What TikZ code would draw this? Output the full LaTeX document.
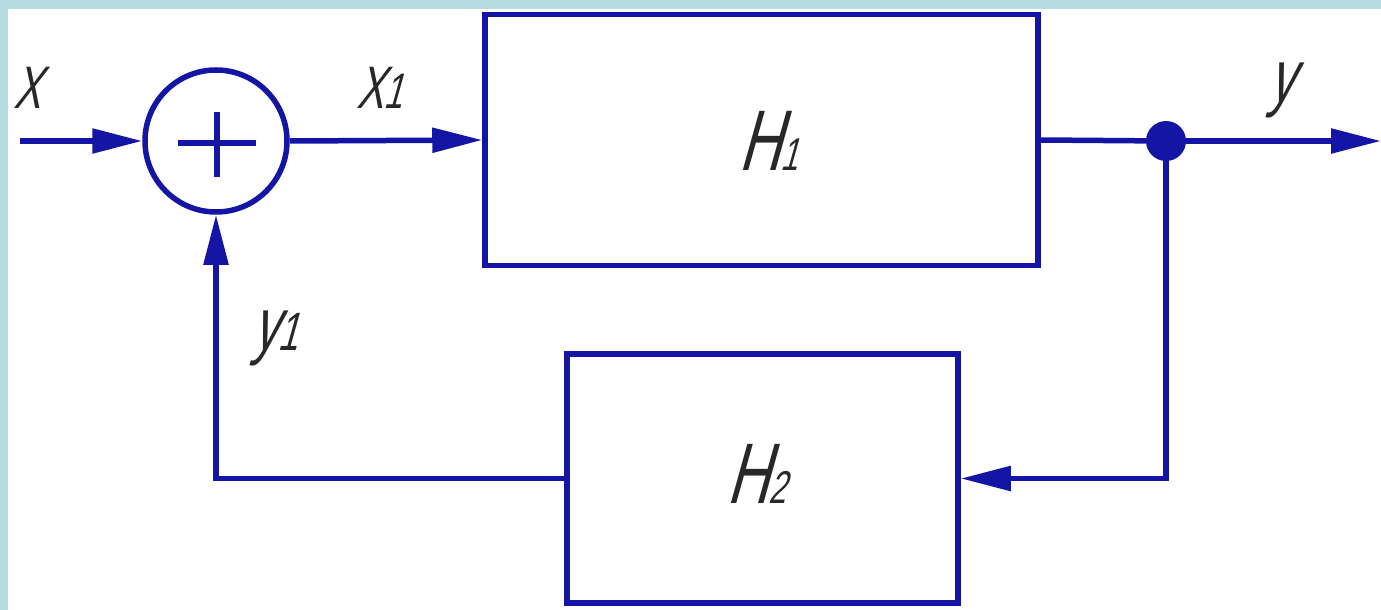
\documentclass[tikz,border=0pt]{standalone}
\usepackage{fontspec}
\usetikzlibrary{arrows.meta}
\newfontfamily\gost[FakeSlant=0.28,FakeStretch=0.68]{Liberation Sans}
\definecolor{lineblue}{RGB}{20,20,165}
\definecolor{bordercyan}{RGB}{182,222,226}
\definecolor{txt}{RGB}{40,40,40}
\tikzset{
  ln/.style={draw=lineblue, line width=5.5pt},
  arr/.style={-{Triangle[length=50pt,width=24pt]}},
  blk/.style={draw=lineblue, line width=5.5pt, fill=white, inner sep=0pt, rectangle},
  sumnode/.style={draw=lineblue, line width=5.5pt, circle, inner sep=0pt, minimum size=142pt},
  dotnode/.style={fill=lineblue, circle, inner sep=0pt, minimum size=40pt},
  lbl/.style={text=txt, inner sep=0pt, font=\gost},
}
\newcommand{\fs}[1]{\fontsize{#1}{#1}\selectfont}
\begin{document}
\begin{tikzpicture}[x=1pt,y=-1pt]
\useasboundingbox (0,0) rectangle (1381,610);
\fill[white] (0,0) rectangle (1381,610);
\fill[bordercyan] (0,0) rectangle (1381,9);
\fill[bordercyan] (0,0) rectangle (8,610);

\node[sumnode] (sum) at (216,141) {};
\draw[ln] (178,143) -- (256,143);
\draw[ln] (217,112) -- (217,177);

\node[blk, minimum width=553pt, minimum height=251pt] (H1) at (761.5,140) {};
\node[blk, minimum width=391pt, minimum height=249pt] (H2) at (762.5,478.5) {};
\node[dotnode] (dot) at (1166,141) {};

\coordinate (in) at (20,141);
\coordinate (out) at (1381,141);

\draw[ln,arr] (in) -- (sum.west);
\draw[ln,arr] (sum.east) -- (H1.west);
\draw[ln] (H1.east) -- (dot);
\draw[ln,arr] (dot) -- (out);
\draw[ln,arr] (dot.center) |- (H2.east);
\draw[ln,arr] (H2.west) -| (sum.south);

\node[lbl, anchor=base west] (lX) at (13,108) {\fs{60}X};
\node[lbl, anchor=base west] (lX1) at (356,108) {\fs{60}X\fs{50}1};
\node[lbl, anchor=base west] (ly) at (1268,102) {\fs{75}y};
\node[lbl, anchor=base west] (ly1) at (252,350) {\fs{75}y\fs{54}1};
\node[lbl, anchor=base] (lH1) at (768,170) {\fs{86}H\fs{46}1};
\node[lbl, anchor=base] (lH2) at (756,503) {\fs{86}H\fs{46}2};
\end{tikzpicture}
\end{document}
